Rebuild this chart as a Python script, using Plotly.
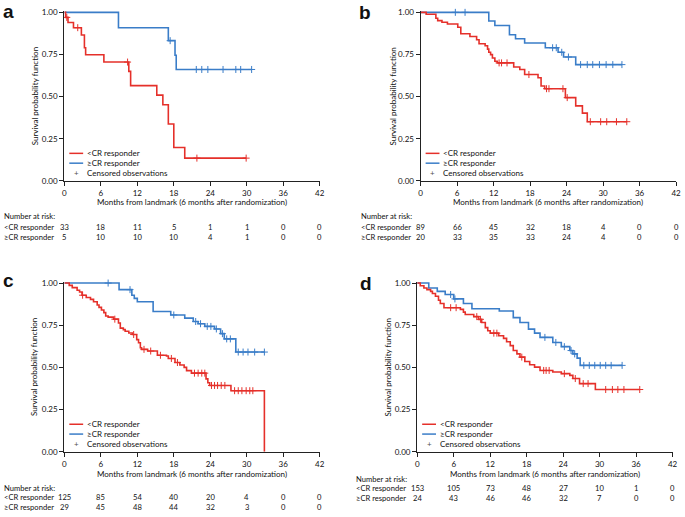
import plotly.graph_objects as go

W, H = 685, 517
RED = '#e5302a'
BLUE = '#3a7dc8'
FONT = 'Lato'
FS = 8
FS_TABLE = 7.6

MONTH_TICKS = [0, 6, 12, 18, 24, 30, 36, 42]
PROB_TICKS = [0, 0.25, 0.5, 0.75, 1.0]
GROUPS = ['<CR responder', '\u2265CR responder']
CENSOR_LABEL = 'Censored observations'
X_TITLE = 'Months from landmark (6 months after randomization)'
Y_TITLE = 'Survival probability function'
RISK_TITLE = 'Number at risk:'

# ---------------- panel a ----------------
a_lt_t = [0.2, 0.6, 1.5, 2.8, 3.3, 3.5, 6.5, 10.6, 10.9, 15.2, 16.2, 17.1, 18.0, 19.8]
a_lt_s = [0.970, 0.940, 0.909, 0.866, 0.790, 0.748, 0.705, 0.650, 0.565, 0.509, 0.452, 0.337, 0.198, 0.135]
a_lt_end = 29.9
a_lt_cens = [0.4, 2.2, 10.4, 21.8, 29.9]
a_ge_t = [8.9, 17.1, 18.2, 18.4]
a_ge_s = [0.909, 0.832, 0.745, 0.661]
a_ge_end = 30.8
a_ge_cens = [17.4, 21.7, 22.6, 23.6, 26.1, 28.2, 29.0, 30.8]
a_risk_lt = [33, 18, 11, 5, 1, 1, 0, 0]
a_risk_ge = [5, 10, 10, 10, 4, 1, 0, 0]

# ---------------- panel b ----------------
b_lt_t = [0.9, 2.5, 2.8, 3.5, 4.4, 6.1, 6.6, 8.1, 9.2, 9.6, 10.6, 11.0, 11.2, 11.5, 11.8, 12.2, 12.6,
          15.3, 16.3, 17.1, 19.3, 19.8, 20.4, 23.8, 25.5, 26.6, 27.4]
b_lt_s = [0.989, 0.965, 0.951, 0.941, 0.931, 0.912, 0.873, 0.857, 0.837, 0.814, 0.802, 0.782, 0.763, 0.749,
          0.729, 0.710, 0.700, 0.676, 0.661, 0.631, 0.612, 0.563, 0.547, 0.494, 0.445, 0.402, 0.351]
b_lt_end = 33.9
b_lt_cens = [12.9, 13.3, 14.2, 17.8, 20.7, 21.1, 23.4, 24.1, 27.9, 29.6, 30.6, 32.2, 33.9]
b_ge_t = [11.2, 12.2, 14.6, 15.6, 17.1, 20.5, 22.6, 23.5, 25.5]
b_ge_s = [0.949, 0.922, 0.867, 0.843, 0.818, 0.790, 0.763, 0.735, 0.690]
b_ge_end = 33.1
b_ge_cens = [5.7, 7.3, 21.7, 22.3, 23.2, 24.3, 26.3, 27.4, 28.3, 29.4, 30.5, 31.6, 33.1]
b_risk_lt = [89, 66, 45, 32, 18, 4, 0, 0]
b_risk_ge = [20, 33, 35, 33, 24, 4, 0, 0]

# ---------------- panel c ----------------
c_lt_t = [0.8, 1.3, 2.1, 2.5, 2.9, 3.6, 4.3, 4.8, 5.4, 5.7, 6.1, 6.5, 6.8, 7.2, 8.1, 8.9, 9.2, 9.7, 10.0,
          10.6, 11.2, 11.9, 12.2, 12.5, 12.7, 13.7, 15.3, 16.8, 17.1, 18.2, 19.0, 19.7, 20.1, 20.9, 23.3,
          23.6, 23.9, 27.4, 32.9]
c_lt_s = [0.986, 0.973, 0.957, 0.947, 0.928, 0.914, 0.903, 0.889, 0.870, 0.856, 0.840, 0.825, 0.805, 0.798,
          0.786, 0.763, 0.733, 0.724, 0.714, 0.704, 0.695, 0.665, 0.646, 0.617, 0.607, 0.597, 0.572, 0.568,
          0.553, 0.529, 0.514, 0.500, 0.481, 0.466, 0.432, 0.409, 0.393, 0.362, 0.0]
c_lt_end = 32.9
c_lt_cens = [3.0, 8.3, 11.4, 13.1, 14.2, 15.8, 17.6, 18.6, 21.4, 22.0, 22.6, 23.1, 24.2, 24.7, 25.2,
             25.8, 26.4, 28.0, 28.6, 29.2, 29.9, 30.5, 31.0]
c_ge_t = [9.0, 11.1, 11.5, 12.0, 14.6, 17.5, 19.8, 21.2, 22.0, 23.1, 24.7, 25.7, 26.3, 28.2]
c_ge_s = [0.961, 0.928, 0.909, 0.889, 0.831, 0.811, 0.792, 0.772, 0.759, 0.743, 0.728, 0.700, 0.669, 0.591]
c_ge_end = 32.9
c_ge_cens = [7.2, 10.8, 18.0, 21.6, 22.4, 23.5, 24.1, 25.0, 26.0, 26.7, 27.3, 28.6, 29.4, 30.2, 31.3, 32.9]
c_risk_lt = [125, 85, 54, 40, 20, 4, 0, 0]
c_risk_ge = [29, 45, 48, 44, 32, 3, 0, 0]

# ---------------- panel d ----------------
d_lt_t = [0.5, 1.1, 1.6, 2.2, 2.5, 3.0, 3.5, 3.8, 4.4, 7.1, 7.6, 7.9, 9.3, 10.1, 10.6, 11.2, 11.6, 12.0,
          13.4, 14.2, 14.7, 15.3, 15.8, 16.4, 16.9, 17.7, 18.5, 19.3, 20.2, 22.3, 23.7, 25.1, 25.6, 26.7, 29.3]
d_lt_s = [0.984, 0.971, 0.961, 0.951, 0.938, 0.922, 0.898, 0.879, 0.854, 0.844, 0.828, 0.814, 0.801, 0.785,
          0.766, 0.736, 0.717, 0.703, 0.688, 0.672, 0.652, 0.629, 0.600, 0.580, 0.561, 0.535, 0.516, 0.502,
          0.482, 0.473, 0.463, 0.453, 0.434, 0.404, 0.369]
d_lt_end = 36.6
d_lt_cens = [5.5, 6.4, 9.8, 10.4, 12.6, 13.1, 17.2, 20.8, 21.2, 21.7, 24.2, 26.0, 27.3, 28.1, 31.0,
             32.1, 33.0, 34.0, 36.6]
d_ge_t = [1.9, 3.3, 4.6, 6.0, 7.6, 9.0, 13.5, 15.8, 16.9, 18.3, 19.3, 20.2, 22.3, 23.7, 25.1, 25.6, 26.3, 26.8]
d_ge_s = [0.971, 0.951, 0.932, 0.906, 0.879, 0.848, 0.834, 0.795, 0.766, 0.727, 0.703, 0.678, 0.648,
          0.623, 0.600, 0.580, 0.555, 0.512]
d_ge_end = 33.7
d_ge_cens = [5.5, 6.2, 21.0, 22.8, 24.2, 25.3, 25.9, 27.4, 28.3, 29.2, 30.1, 31.0, 31.9, 33.7]
d_risk_lt = [153, 105, 73, 48, 27, 10, 1, 0]
d_risk_ge = [24, 43, 46, 46, 32, 7, 0, 0]

PANELS = [
    ('a', (a_lt_t, a_lt_s, a_lt_end, a_lt_cens), (a_ge_t, a_ge_s, a_ge_end, a_ge_cens), a_risk_lt, a_risk_ge),
    ('b', (b_lt_t, b_lt_s, b_lt_end, b_lt_cens), (b_ge_t, b_ge_s, b_ge_end, b_ge_cens), b_risk_lt, b_risk_ge),
    ('c', (c_lt_t, c_lt_s, c_lt_end, c_lt_cens), (c_ge_t, c_ge_s, c_ge_end, c_ge_cens), c_risk_lt, c_risk_ge),
    ('d', (d_lt_t, d_lt_s, d_lt_end, d_lt_cens), (d_ge_t, d_ge_s, d_ge_end, d_ge_cens), d_risk_lt, d_risk_ge),
]

# layout geometry in pixels (x0/x1: axis left/right, y0: y=1, y1: y=0)
GEOM = {
    'a': dict(x0=63, x1=321, y0=8.5, y1=180, lab=(7, 8), risk=(216, 227, 237), tx=0, xt=202, yt=33),
    'b': dict(x0=423, x1=681, y0=8.5, y1=180, lab=(367, 9), risk=(216, 227, 237), tx=361, xt=202, yt=395),
    'c': dict(x0=63, x1=321, y0=284, y1=455.7, lab=(7, 281), risk=(493, 502, 512), tx=0, xt=478.7, yt=33),
    'd': dict(x0=419.5, x1=677.5, y0=284, y1=455.7, lab=(368, 284), risk=(483, 493, 503), tx=356, xt=478.7, yt=390),
}


def px(x):
    return x / W


def py(y):
    return 1 - y / H


def surv_at(t_list, s_list, c):
    val = 1.0
    for t, s in zip(t_list, s_list):
        if t <= c:
            val = s
    return val


YMAX = 1.008
fig = go.Figure()
annotations = []
shapes = []
layout = {}
tf = dict(family=FONT, size=FS, color='#111')
tt = dict(family=FONT, size=FS_TABLE, color='#111')

for i, (key, lt, ge, risk_lt, risk_ge) in enumerate(PANELS):
    g = GEOM[key]
    sfx = '' if i == 0 else str(i + 1)
    xr, yr = 'x' + sfx, 'y' + sfx
    for (t, s, end, cens), color, name in ((ge, BLUE, GROUPS[1]), (lt, RED, GROUPS[0])):
        xs = [0] + list(t) + [end]
        ys = [1.0] + list(s) + [s[-1]]
        fig.add_trace(go.Scatter(x=xs, y=ys, mode='lines', line=dict(color=color, width=1.6, shape='hv'),
                                 name=name, xaxis=xr, yaxis=yr, showlegend=False, hoverinfo='skip'))
        fig.add_trace(go.Scatter(x=list(cens), y=[surv_at(t, s, c) for c in cens], mode='markers',
                                 marker=dict(symbol='cross-thin', size=5, line=dict(color=color, width=1)),
                                 name=CENSOR_LABEL, xaxis=xr, yaxis=yr, showlegend=False, cliponaxis=False,
                                 hoverinfo='skip'))
    top_px = g['y0'] - (YMAX - 1) * (g['y1'] - g['y0'])
    common = dict(showline=True, linecolor='#222', linewidth=1.3, ticks='outside', ticklen=4, tickwidth=1,
                  tickcolor='#222', showgrid=False, zeroline=False, tickfont=tf, fixedrange=True)
    layout['xaxis' + sfx] = dict(domain=[px(g['x0']), px(g['x1'])], range=[0, 42], anchor=yr,
                                 tickvals=MONTH_TICKS, ticktext=[str(v) for v in MONTH_TICKS], **common)
    layout['yaxis' + sfx] = dict(domain=[py(g['y1']), py(top_px)], range=[0, YMAX], anchor=xr,
                                 tickvals=PROB_TICKS, tickformat='.2f', **common)
    # panel letter
    annotations.append(dict(text='<b>%s</b>' % key, x=px(g['lab'][0]), y=py(g['lab'][1]), xref='paper',
                            yref='paper', showarrow=False, xanchor='center', yanchor='middle',
                            font=dict(family='Liberation Sans', size=19, color='#111')))
    # axis titles
    annotations.append(dict(text=X_TITLE, x=px((g['x0'] + g['x1']) / 2), y=py(g['xt']), xref='paper',
                            yref='paper', showarrow=False, xanchor='center', yanchor='middle', font=tf))
    annotations.append(dict(text=Y_TITLE, x=px(g['yt']), y=py((g['y0'] + g['y1']) / 2), xref='paper',
                            yref='paper', showarrow=False, xanchor='center', yanchor='middle', font=tf,
                            textangle=-90))
    # legend (drawn manually)
    lx0 = g['x0'] + 5
    for row, (color, name) in enumerate(((RED, GROUPS[0]), (BLUE, GROUPS[1]))):
        yy = g['y1'] - 28 + 10 * row
        shapes.append(dict(type='line', xref='paper', yref='paper', x0=px(lx0), x1=px(lx0 + 14),
                           y0=py(yy), y1=py(yy), line=dict(color=color, width=1.5)))
        annotations.append(dict(text=name, x=px(lx0 + 16), y=py(yy), xref='paper', yref='paper',
                                showarrow=False, xanchor='left', yanchor='middle', font=tf))
    yy = g['y1'] - 8
    annotations.append(dict(text='+', x=px(lx0 + 7), y=py(yy), xref='paper', yref='paper',
                            showarrow=False, xanchor='center', yanchor='middle',
                            font=dict(family=FONT, size=8, color='#555')))
    annotations.append(dict(text=CENSOR_LABEL, x=px(lx0 + 16), y=py(yy), xref='paper', yref='paper',
                            showarrow=False, xanchor='left', yanchor='middle', font=tf))
    # number at risk table
    annotations.append(dict(text=RISK_TITLE, x=px(g['tx']), y=py(g['risk'][0]), xref='paper', yref='paper',
                            showarrow=False, xanchor='left', yanchor='middle', font=tt))
    for row, (name, vals) in enumerate(((GROUPS[0], risk_lt), (GROUPS[1], risk_ge))):
        yy = g['risk'][1 + row]
        annotations.append(dict(text=name, x=px(g['tx']), y=py(yy), xref='paper', yref='paper',
                                showarrow=False, xanchor='left', yanchor='middle', font=tt))
        for tv, n in zip(MONTH_TICKS, vals):
            annotations.append(dict(text=str(n), x=tv, y=py(yy), xref=xr, yref='paper',
                                    showarrow=False, xanchor='center', yanchor='middle', font=tt))

fig.update_layout(width=W, height=H, margin=dict(l=0, r=0, t=0, b=0), paper_bgcolor='white',
                  plot_bgcolor='white', showlegend=False, annotations=annotations, shapes=shapes,
                  font=tf, **layout)

fig.write_html('out.html', config={'displayModeBar': False},
               post_script="document.body.style.margin='0';document.body.style.padding='0';")
